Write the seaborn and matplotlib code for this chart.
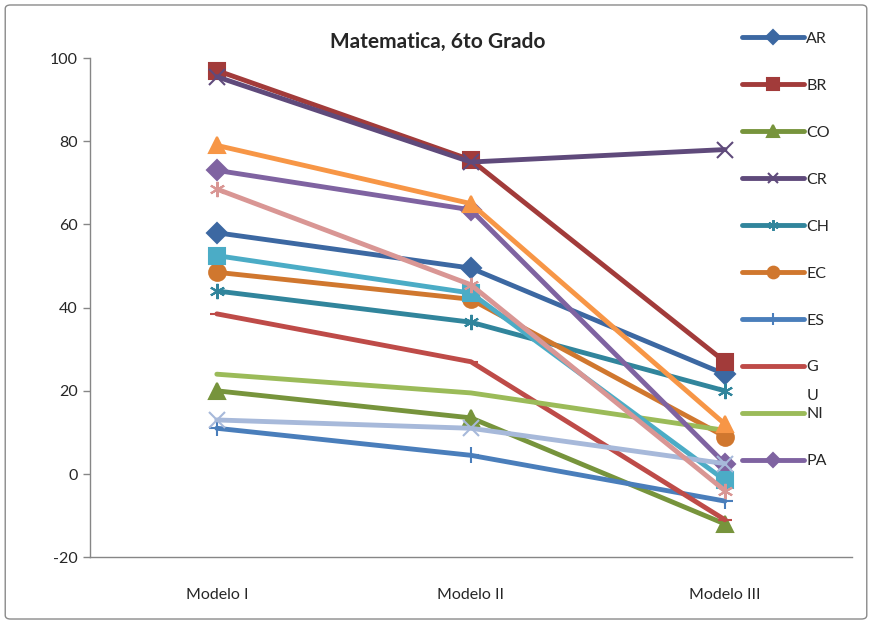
import matplotlib
matplotlib.use("Agg")
import matplotlib.pyplot as plt
from matplotlib.patches import FancyBboxPatch
import pandas as pd
import seaborn as sns

models = ["Modelo I", "Modelo II", "Modelo III"]
countries = ["AR", "BR", "CO", "CR", "CH", "EC", "ES", "GU", "NI", "PA", "PY", "PE", "RD", "UY"]
legend_labels = ["AR", "BR", "CO", "CR", "CH", "EC", "ES", "G", "NI", "PA"]

AR = [58, 49.5, 24]
BR = [97, 75.5, 27]
CO = [20, 13.5, -12]
CR = [95.5, 75, 78]
CH = [44, 36.5, 20]
EC = [48.5, 42, 9]
ES = [11, 4.5, -6.5]
GU = [38.5, 27, -11]
NI = [24, 19.5, 10.5]
PA = [73, 63.5, 2.5]
PY = [52.5, 43.5, -1.5]
PE = [79, 65, 12]
RD = [13, 11, 2.5]
UY = [68.5, 45.5, -4]
values = [AR, BR, CO, CR, CH, EC, ES, GU, NI, PA, PY, PE, RD, UY]

colors = ["#3C68A2", "#A23B3A", "#77943C", "#5F4A7B", "#31859C", "#D0772E", "#4A7EBB",
          "#BE4B48", "#9BBB59", "#7F63A1", "#4BACC6", "#F79646", "#A7B9DA", "#D99694"]
markers = ["D", "s", "^", "x", (6, 2, 0), "o", "+", "_", "None", "D", "s", "^", "x", (6, 2, 0)]
msizes = [10, 12, 12, 11, 11, 12, 12, 10, 0, 10, 12, 12, 11, 11]

df = pd.DataFrame({
    "model": models * len(countries),
    "country": [c for c in countries for _ in models],
    "score": [v for vals in values for v in vals],
})

sns.set_style("white")
plt.rcParams["font.family"] = ["Lato", "DejaVu Sans"]
plt.rcParams["axes.unicode_minus"] = False

fig = plt.figure(figsize=(8.72, 6.24), dpi=100)
ax = fig.add_axes([0.103, 0.107, 0.874, 0.800])

handles = []
for i, c in enumerate(countries):
    sub = df[df["country"] == c]
    sns.lineplot(data=sub, x="model", y="score", ax=ax, color=colors[i], lw=3.5,
                 marker=markers[i], markersize=msizes[i], markeredgecolor=colors[i],
                 markerfacecolor=colors[i], markeredgewidth=1.5, sort=False, label=c)
    handles.append(ax.lines[-1])

ax.set_xlim(-0.5, 2.5)
ax.set_ylim(-20, 100)
ax.set_yticks(range(-20, 101, 20))
ax.set_xticks(range(3))
ax.set_xticklabels(models)
ax.set_xticks([-0.5, 0.5, 1.5, 2.5], minor=True)
ax.tick_params(axis="x", which="major", length=0, pad=22, labelsize=11.5)
ax.tick_params(axis="x", which="minor", length=6, color="#868686", width=1)
ax.tick_params(axis="y", length=5, color="#868686", width=1, labelsize=11.5, left=True)
ax.set_xlabel("")
ax.set_ylabel("")
for s in ["top", "right"]:
    ax.spines[s].set_visible(False)
for s in ["left", "bottom"]:
    ax.spines[s].set_color("#868686")
    ax.spines[s].set_linewidth(1)

ax.get_legend().remove()
leg = fig.legend(handles[:10], legend_labels, loc="upper left",
                 bbox_to_anchor=(0.834, 0.972), frameon=False, fontsize=11.5,
                 handlelength=3.9, handletextpad=0.15, labelspacing=2.05, numpoints=1,
                 markerscale=0.7)

fig.suptitle("Matematica, 6to Grado", x=0.502, y=0.948, fontsize=15, fontweight="bold")

border = FancyBboxPatch((0.006, 0.008), 0.988, 0.984, boxstyle="round,pad=0,rounding_size=0.006",
                        transform=fig.transFigure, fill=False, edgecolor="#8a8a8a", lw=1)
fig.patches.append(border)

fig.canvas.draw()
g_text = leg.get_texts()[7]
bb = g_text.get_window_extent().transformed(fig.transFigure.inverted())
fig.text(bb.x0, bb.y0 - 0.045, "U", fontsize=11.5, ha="left", va="bottom")

fig.savefig("out.png", dpi=100)
